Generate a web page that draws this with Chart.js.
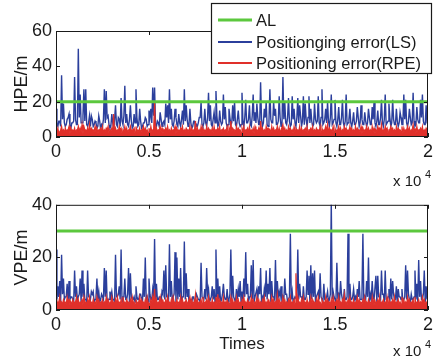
<!DOCTYPE html>
<html>
<head>
<meta charset="utf-8">
<script src="https://cdn.jsdelivr.net/npm/chart.js@4.4.0/dist/chart.umd.min.js"></script>
<style>
  body { margin: 0; background: #fff; }
  #wrap { position: relative; width: 437px; height: 363px; }
  #hpe { position: absolute; left: 0; top: 0; }
  #vpe { position: absolute; left: 0; top: 190px; }
</style>
</head>
<body>
<div id="wrap">
  <canvas id="hpe" width="437" height="190"></canvas>
  <canvas id="vpe" width="437" height="173"></canvas>
</div>
<script>
// sample epochs: peaks every 100 steps, troughs half way between (0 .. 2e4)
const sampleTimes = Array.from({ length: 201 }, (_, i) => i * 100);
const midTimes = Array.from({ length: 200 }, (_, i) => i * 100 + 50);
const xTickLabels = ['0', '0.5', '1', '1.5', '2'];

// horizontal error (m)
const hpeAL = [20, 20];
const hpeLs = [
  16,6,9,35,19,6,10,13,5,8,
  34,7,50,24,8,27,27,6,12,12,
  6,9,5,12,4,6,27,26,12,5,
  13,5,18,6,10,22,7,29,13,6,
  18,5,13,27,6,16,5,8,11,6,
  15,16,28,28,6,8,14,6,9,19,
  18,27,16,6,16,7,13,6,15,27,
  18,6,16,5,9,5,6,11,20,6,
  16,6,25,18,6,14,26,6,15,7,
  24,17,6,16,7,18,20,6,15,6,
  25,6,21,8,18,6,24,14,19,7,
  31,6,16,20,6,27,8,20,16,7,
  23,6,34,20,7,22,6,23,16,6,
  22,18,6,23,19,6,23,16,6,19,
  8,23,6,27,8,16,20,6,24,8,
  21,6,17,7,21,6,24,8,16,6,
  14,7,17,6,18,7,14,6,16,7,
  17,20,6,15,7,21,6,24,8,19,
  6,21,7,16,6,14,7,24,21,6,
  16,7,25,6,17,8,21,24,7,18,
  22
];
const hpeLsLow = [
  7,9,6,10,8,7,11,6,8,9,
  10,7,11,8,12,9,7,8,6,10,
  7,8,6,9,7,10,8,11,7,6,
  8,10,7,11,6,9,12,8,7,10,
  9,6,8,11,7,9,6,8,10,7,
  11,8,12,7,9,6,10,8,7,11,
  8,10,7,9,11,6,8,10,7,9,
  10,7,8,6,9,7,8,11,7,8,
  8,11,9,7,10,8,12,7,9,8,
  10,8,7,11,8,9,7,10,8,7,
  9,11,8,10,7,12,9,8,11,7,
  10,8,11,7,9,10,8,12,7,9,
  11,7,10,8,11,9,7,10,8,11,
  8,12,9,7,10,11,8,9,7,10,
  9,8,11,7,10,8,9,11,7,10,
  8,10,7,11,8,9,7,10,8,9,
  7,9,11,8,10,7,9,8,11,7,
  10,8,9,7,11,8,10,7,9,11,
  8,10,7,9,8,11,7,10,8,9,
  11,8,9,7,10,8,11,9,7,8
];
const hpeRpe = [
  4,5,3,6,4,5,4,6,5,4,
  5,4,6,5,7,6,4,5,7,5,
  4,6,5,4,5,6,4,5,6,4,
  5,13,5,4,6,5,4,6,5,4,
  6,4,5,6,4,5,4,6,5,4,
  5,6,4,20,5,4,6,5,4,5,
  6,4,5,4,6,5,4,5,6,4,
  5,4,6,5,4,9,5,4,6,5,
  4,6,5,4,5,6,4,5,6,4,
  5,4,6,5,9,5,4,6,5,4,
  5,6,4,5,6,4,5,6,4,5,
  9,5,4,6,5,4,6,5,4,6,
  5,4,7,5,4,6,5,4,6,5,
  4,6,5,4,5,6,4,5,6,4,
  5,4,6,5,4,6,7,5,4,6,
  5,4,6,5,4,6,5,4,6,5,
  4,6,5,4,6,5,4,6,5,4,
  6,5,4,6,5,7,4,6,5,4,
  6,5,4,6,5,4,6,5,4,6,
  5,4,7,5,6,4,5,6,4,5,
  4
];
const hpeRpeLow = [
  3,2,4,3,2,3,4,2,3,3,
  2,4,3,3,2,4,3,2,3,4,
  3,3,2,4,3,2,3,4,2,3,
  4,2,3,3,4,2,3,3,2,4,
  3,4,2,3,3,2,4,3,3,2,
  2,3,4,2,3,4,3,2,4,3,
  3,2,3,4,2,3,3,4,2,3,
  4,3,2,3,4,2,3,2,4,3,
  2,3,4,3,2,3,4,3,2,4,
  3,4,2,3,3,4,2,3,4,2,
  3,2,4,2,3,3,2,4,3,3,
  4,3,2,4,3,2,3,3,4,2,
  2,4,3,3,2,4,3,2,3,4,
  3,2,3,4,3,2,4,3,2,3,
  4,3,2,3,4,3,2,4,3,2,
  3,4,3,2,3,4,3,2,4,3,
  2,3,4,3,2,3,4,3,3,2,
  3,2,3,4,3,2,3,4,2,4,
  4,3,2,3,4,3,2,3,4,3,
  2,4,3,2,3,4,3,2,3,4
];

// vertical error (m)
const vpeAL = [30, 30];
const vpeLs = [
  23,9,11,21,12,5,10,11,5,4,
  15,9,5,12,15,10,4,15,5,7,
  7,4,12,7,4,5,16,15,4,7,
  7,4,21,5,9,23,5,12,4,16,
  14,4,5,9,4,6,4,12,20,5,
  12,4,8,27,10,4,5,7,15,17,
  5,25,11,5,22,20,12,16,5,26,
  14,8,4,3,5,4,5,4,18,5,
  8,16,8,4,9,8,23,12,9,4,
  10,4,8,4,23,13,4,8,8,11,
  7,12,22,10,5,17,19,5,8,9,
  16,5,8,15,10,16,11,5,19,11,
  7,9,5,12,6,4,29,7,4,5,
  23,10,5,9,4,15,13,17,14,15,
  5,7,14,5,10,4,7,4,41,7,
  5,18,6,11,4,8,4,29,10,4,
  8,5,8,11,4,29,5,11,20,6,
  11,4,13,13,5,15,6,15,4,8,
  12,11,4,9,8,5,8,4,17,15,
  4,6,4,15,10,19,11,4,15,9,
  4
];
const vpeLsLow = [
  4,5,3,6,4,5,3,4,5,3,
  5,4,6,3,5,4,3,5,4,6,
  3,5,4,3,6,4,5,3,4,5,
  4,3,5,6,4,3,5,4,6,3,
  5,4,3,5,4,6,3,5,4,3,
  6,4,5,3,4,5,3,6,4,5,
  3,5,4,6,3,4,5,3,5,4,
  5,3,4,5,3,6,4,3,5,4,
  4,6,3,5,4,3,5,4,3,6,
  5,4,3,6,4,5,3,4,5,3,
  4,5,6,3,5,4,3,5,4,6,
  3,4,5,4,6,3,5,4,3,5,
  5,3,4,6,3,5,4,3,5,4,
  4,5,3,4,5,6,3,4,5,3,
  6,4,5,3,4,5,3,6,4,5,
  3,5,4,6,3,4,5,3,4,5,
  4,3,5,4,6,3,4,5,3,4,
  5,4,3,5,4,6,3,4,5,3,
  4,6,4,3,5,4,3,5,4,6,
  3,4,5,4,3,5,4,6,3,4
];
const vpeRpe = [
  4,3,5,3,4,3,5,4,3,4,
  3,5,4,3,4,5,3,4,5,3,
  4,3,5,4,3,4,3,5,4,3,
  5,3,4,5,3,4,5,3,4,3,
  4,5,3,4,3,5,4,3,4,5,
  3,4,5,8,4,3,5,4,3,4,
  5,3,4,5,3,4,3,5,4,3,
  4,3,5,4,3,6,4,3,4,5,
  3,4,5,3,4,3,5,6,4,3,
  5,3,4,3,5,4,3,5,4,3,
  4,5,3,4,3,5,4,3,5,4,
  3,4,5,3,4,3,5,4,3,6,
  4,3,5,4,3,4,5,3,4,14,
  5,3,4,5,3,4,3,5,4,3,
  4,5,3,4,3,5,4,3,4,5,
  3,4,5,3,4,6,3,4,5,3,
  4,3,5,4,3,4,5,3,4,3,
  5,4,3,4,5,3,4,3,5,4,
  3,4,5,3,4,3,5,4,3,5,
  4,3,4,5,3,4,3,5,4,3,
  4
];
const vpeRpeLow = [
  2,3,2,2,3,2,3,2,2,3,
  3,2,2,3,2,3,2,2,3,2,
  2,2,3,2,3,2,2,3,2,3,
  3,2,2,3,2,2,3,2,3,2,
  2,3,2,2,3,2,3,2,2,3,
  2,2,3,2,2,3,2,3,2,2,
  3,2,2,3,2,2,3,2,2,3,
  2,3,2,2,3,2,2,3,2,2,
  3,2,3,2,2,3,2,2,3,2,
  2,2,3,2,3,2,2,3,2,3,
  3,2,2,3,2,3,2,2,3,2,
  2,3,2,2,3,2,3,2,2,3,
  2,2,3,2,2,3,2,3,2,2,
  3,2,2,3,2,2,3,2,3,2,
  2,3,2,3,2,2,3,2,2,3,
  3,2,2,2,3,2,2,3,2,2,
  2,3,2,3,2,3,2,2,3,2,
  2,2,3,2,2,3,2,3,2,3,
  3,2,2,3,2,2,3,2,2,3,
  2,3,2,2,3,2,2,3,2,2
];

const FONT = "'Liberation Sans', Arial, sans-serif";
const GREEN = '#5cc83e';
const BLUE = '#2b3f9c';
const RED = '#e0302a';
const INK = '#1a1a1a';

// peak, trough, peak, trough ... as {x, y}
function pts(peaks, lows) {
  const out = [];
  peaks.forEach((v, i) => {
    out.push({ x: sampleTimes[i], y: v });
    if (i < lows.length) out.push({ x: midTimes[i], y: lows[i] });
  });
  return out;
}

// MATLAB-like box with inward ticks and the "x 10^4" exponent
const frameAndTicks = {
  id: 'frameAndTicks',
  afterDatasetsDraw(chart, args, opts) {
    const { ctx, chartArea: a, scales } = chart;
    ctx.save();
    ctx.strokeStyle = INK;
    ctx.lineWidth = 1;
    ctx.strokeRect(a.left + 0.5, a.top + 0.5, a.width - 1, a.height - 1);
    ctx.beginPath();
    scales.x.ticks.forEach(t => {
      const px = Math.round(scales.x.getPixelForValue(t.value)) + 0.5;
      ctx.moveTo(px, a.bottom); ctx.lineTo(px, a.bottom - 4);
      ctx.moveTo(px, a.top); ctx.lineTo(px, a.top + 4);
    });
    scales.y.ticks.forEach(t => {
      const py = Math.round(scales.y.getPixelForValue(t.value)) + 0.5;
      ctx.moveTo(a.left, py); ctx.lineTo(a.left + 4, py);
      ctx.moveTo(a.right, py); ctx.lineTo(a.right - 4, py);
    });
    ctx.stroke();
    ctx.fillStyle = INK;
    ctx.textBaseline = 'middle';
    ctx.textAlign = 'left';
    ctx.font = '15px ' + FONT;
    ctx.fillText('x 10', 393, opts.expY);
    ctx.font = '11px ' + FONT;
    ctx.fillText('4', 425, opts.expY - 7);
    ctx.restore();
  }
};

const legendBox = {
  id: 'legendBox',
  afterDraw(chart) {
    const ctx = chart.ctx;
    const rows = [20, 42, 63];
    ctx.save();
    ctx.fillStyle = '#fff';
    ctx.fillRect(211, 3, 221, 71);
    ctx.strokeStyle = INK;
    ctx.lineWidth = 1.2;
    ctx.strokeRect(211.5, 3.5, 220, 70);
    ctx.font = '16.5px ' + FONT;
    ctx.textBaseline = 'middle';
    chart.data.datasets.forEach((ds, i) => {
      ctx.strokeStyle = ds.borderColor;
      ctx.lineWidth = Math.max(ds.borderWidth, 2);
      ctx.beginPath();
      ctx.moveTo(218, rows[i]);
      ctx.lineTo(252, rows[i]);
      ctx.stroke();
      ctx.fillStyle = INK;
      ctx.fillText(ds.label, 256, rows[i] + 1);
    });
    ctx.restore();
  }
};

function makeChart(id, al, ls, lsLow, rpe, rpeLow, yMax, yTitle, xTitle, padTop, expY, showLegend) {
  return new Chart(document.getElementById(id), {
    type: 'line',
    data: {
      datasets: [
        {
          label: 'AL',
          data: [{ x: 0, y: al[0] }, { x: 20000, y: al[1] }],
          borderColor: GREEN,
          borderWidth: 3,
          order: 0,
        },
        {
          label: 'Positionging error(LS)',
          data: pts(ls, lsLow),
          borderColor: BLUE,
          borderWidth: 1.4,
          order: 2,
        },
        {
          label: 'Positioning error(RPE)',
          data: pts(rpe, rpeLow),
          borderColor: RED,
          backgroundColor: RED,
          borderWidth: 1.2,
          fill: 'origin',
          order: 1,
        },
      ]
    },
    options: {
      responsive: false,
      animation: false,
      events: [],
      elements: { point: { radius: 0 }, line: { tension: 0 } },
      layout: { padding: { left: 0, right: 6, top: padTop, bottom: 0 } },
      scales: {
        x: {
          type: 'linear',
          min: 0,
          max: 20000,
          ticks: {
            stepSize: 5000,
            color: INK,
            padding: 4,
            maxRotation: 0,
            font: { family: FONT, size: 18 },
            callback: (v) => xTickLabels[Math.round(v / 5000)],
          },
          grid: { display: false, drawTicks: false, tickLength: 0 },
          border: { display: false },
          title: {
            display: !!xTitle,
            text: xTitle,
            color: INK,
            padding: { top: 0, bottom: 8 },
            font: { family: FONT, size: 17 },
          },
          afterFit: (s) => { s.height = 53; },
        },
        y: {
          min: 0,
          max: yMax,
          ticks: {
            stepSize: 20,
            color: INK,
            padding: 4,
            font: { family: FONT, size: 18 },
          },
          grid: { display: false, drawTicks: false, tickLength: 0 },
          border: { display: false },
          title: {
            display: true,
            text: yTitle,
            color: INK,
            padding: { top: 11, bottom: 0 },
            font: { family: FONT, size: 18 },
          },
          afterFit: (s) => { s.width = 56; },
        },
      },
      plugins: {
        legend: { display: false },
        tooltip: { enabled: false },
        frameAndTicks: { expY: expY },
      },
    },
    plugins: showLegend ? [frameAndTicks, legendBox] : [frameAndTicks],
  });
}

makeChart('hpe', hpeAL, hpeLs, hpeLsLow, hpeRpe, hpeRpeLow, 60, 'HPE/m', '', 31, 182, true);
makeChart('vpe', vpeAL, vpeLs, vpeLsLow, vpeRpe, vpeRpeLow, 40, 'VPE/m', 'Times', 13, 162, false);
</script>
</body>
</html>
